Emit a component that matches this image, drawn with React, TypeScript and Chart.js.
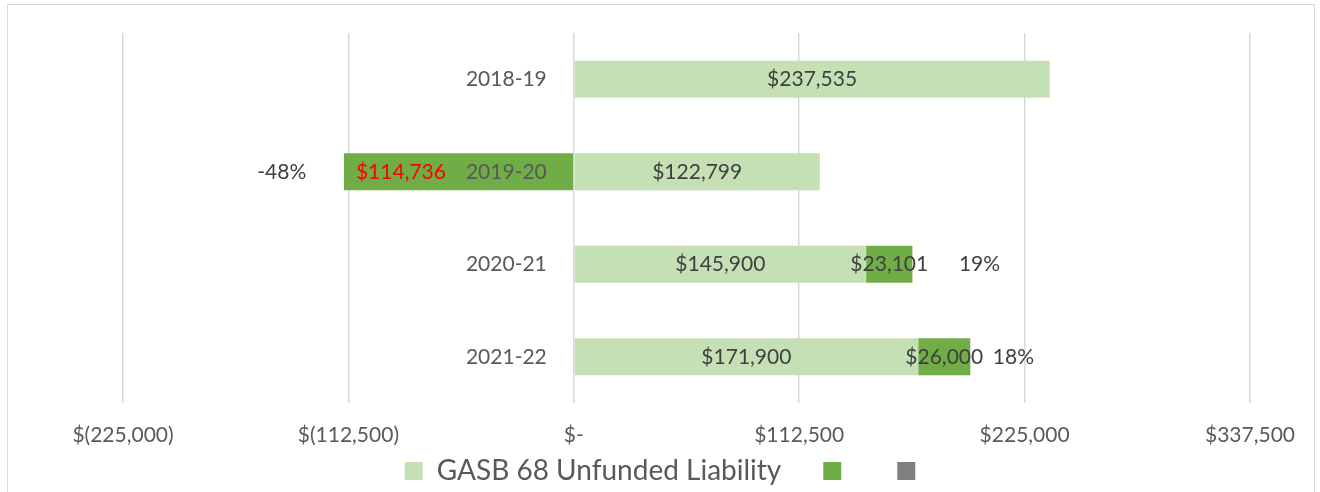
import React, { useEffect, useRef } from "react";
import { Chart, registerables } from "chart.js";

Chart.register(...registerables);

const categories = ["2018-19", "2019-20", "2020-21", "2021-22"];
const unfundedLiability = [237535, 122799, 145900, 171900];
const changeAmount = [0, -114736, 23101, 26000];
// invisible helper series that carries the percentage-change labels
const percentSpacer = [0, -62000, 67000, 43000];
const percentLabels = ["", "-48%", "19%", "18%"];
const xTickValues = [-225000, -112500, 0, 112500, 225000, 337500];
const xTickLabels = ["$(225,000)", "$(112,500)", "$-", "$112,500", "$225,000", "$337,500"];
const seriesNames = ["GASB 68 Unfunded Liability", "", ""];
const seriesColors = ["#C5E0B4", "#70AD47", "#7F7F7F"];

const FONT = "Lato";

const money = (v: number) => "$" + Math.abs(v).toLocaleString("en-US");

const labelPlugin = {
  id: "customLabels",
  afterDatasetsDraw(chart: any) {
    const ctx = chart.ctx as CanvasRenderingContext2D;
    const xs = chart.scales.x;
    const ys = chart.scales.y;
    ctx.save();
    ctx.font = `21px ${FONT}`;
    ctx.textBaseline = "middle";
    const zeroX = xs.getPixelForValue(0);

    // x-axis tick labels (drawn here so they are not clipped by the axis box)
    ctx.fillStyle = "#595959";
    ctx.textAlign = "center";
    const tickY = chart.chartArea.bottom + 32;
    xTickValues.forEach((v, i) => ctx.fillText(xTickLabels[i], xs.getPixelForValue(v), tickY));

    // category labels next to the zero line
    ctx.textAlign = "right";
    categories.forEach((c, i) => ctx.fillText(c, zeroX - 27, ys.getPixelForValue(i)));

    chart.data.datasets.forEach((ds: any, di: number) => {
      const meta = chart.getDatasetMeta(di);
      meta.data.forEach((el: any, i: number) => {
        const v = ds.data[i];
        if (!v) return;
        const ex = el.x;
        const base = el.base;
        const ey = el.y;
        const cx = (ex + base) / 2;
        if (di === 0) {
          ctx.fillStyle = "#404040";
          ctx.textAlign = "center";
          ctx.fillText(money(v), cx, ey);
        } else if (di === 1) {
          const txt = money(v);
          const w = ctx.measureText(txt).width;
          const bw = Math.abs(ex - base);
          ctx.fillStyle = v < 0 ? "#FF0000" : "#404040";
          if (w + 24 > bw) {
            ctx.textAlign = "center";
            ctx.fillText(txt, cx, ey);
          } else if (v < 0) {
            ctx.textAlign = "left";
            ctx.fillText(txt, ex + 12, ey);
          } else {
            ctx.textAlign = "right";
            ctx.fillText(txt, ex - 12, ey);
          }
        } else {
          const txt = percentLabels[i];
          if (!txt) return;
          ctx.fillStyle = "#404040";
          ctx.textAlign = "center";
          ctx.fillText(txt, cx, ey);
        }
      });
    });
    ctx.restore();
  },
};

export default function App() {
  const canvasRef = useRef<HTMLCanvasElement | null>(null);

  useEffect(() => {
    document.body.style.margin = "0";
    let chart: Chart | null = null;
    let cancelled = false;
    const make = () => {
      if (cancelled || !canvasRef.current) return;
      chart = new Chart(canvasRef.current, {
        type: "bar",
        data: {
          labels: categories,
          datasets: [
            {
              label: seriesNames[0],
              data: unfundedLiability,
              backgroundColor: seriesColors[0],
              borderWidth: 0,
            },
            {
              label: seriesNames[1],
              data: changeAmount,
              backgroundColor: seriesColors[1],
              borderWidth: 0,
            },
            {
              label: seriesNames[2],
              data: percentSpacer,
              backgroundColor: "rgba(0,0,0,0)",
              borderWidth: 0,
            },
          ],
        },
        options: {
          indexAxis: "y",
          responsive: false,
          animation: false,
          devicePixelRatio: 1,
          datasets: { bar: { categoryPercentage: 1, barPercentage: 0.4 } },
          layout: { padding: { left: 84, right: 70, top: 33, bottom: -3 } },
          scales: {
            x: {
              stacked: true,
              min: -225000,
              max: 337500,
              afterBuildTicks: (scale: any) => {
                scale.ticks = xTickValues.map((v) => ({ value: v }));
              },
              afterFit: (scale: any) => {
                scale.height = 12;
                scale.paddingLeft = 0;
                scale.paddingRight = 0;
              },
              ticks: { display: false },
              grid: { color: "#D9D9D9", lineWidth: 1.5, drawTicks: false },
              border: { display: false },
            },
            y: {
              stacked: true,
              position: "left",
              ticks: { display: false },
              grid: { display: false, drawTicks: false },
              border: { display: false },
              afterFit: (scale: any) => {
                scale.width = 39;
              },
            },
          },
          plugins: {
            tooltip: { enabled: false },
            legend: {
              position: "bottom",
              labels: {
                boxWidth: 18,
                boxHeight: 18,
                padding: 42,
                color: "#595959",
                font: { family: FONT, size: 28 },
                generateLabels: (c: any) =>
                  c.data.datasets.map((ds: any, i: number) => ({
                    text: ds.label,
                    fillStyle: seriesColors[i],
                    strokeStyle: seriesColors[i],
                    lineWidth: 0,
                    hidden: false,
                    datasetIndex: i,
                    fontColor: "#595959",
                  })),
              },
            },
          },
        },
        plugins: [labelPlugin],
      } as any);
    };
    const fontsApi: any = (document as any).fonts;
    if (fontsApi && fontsApi.load) {
      Promise.all([fontsApi.load(`21px ${FONT}`), fontsApi.load(`28px ${FONT}`)])
        .catch(() => null)
        .then(make);
    } else {
      make();
    }
    return () => {
      cancelled = true;
      if (chart) chart.destroy();
    };
  }, []);

  return (
    <div style={{ position: "relative", width: 1320, height: 492, overflow: "hidden", background: "#fff" }}>
      <div
        style={{
          position: "absolute",
          left: 7,
          top: 4,
          width: 1308,
          height: 500,
          border: "1px solid #D9D9D9",
          boxSizing: "border-box",
        }}
      />
      <canvas ref={canvasRef} width={1320} height={492} style={{ position: "absolute", left: 0, top: 0 }} />
    </div>
  );
}
